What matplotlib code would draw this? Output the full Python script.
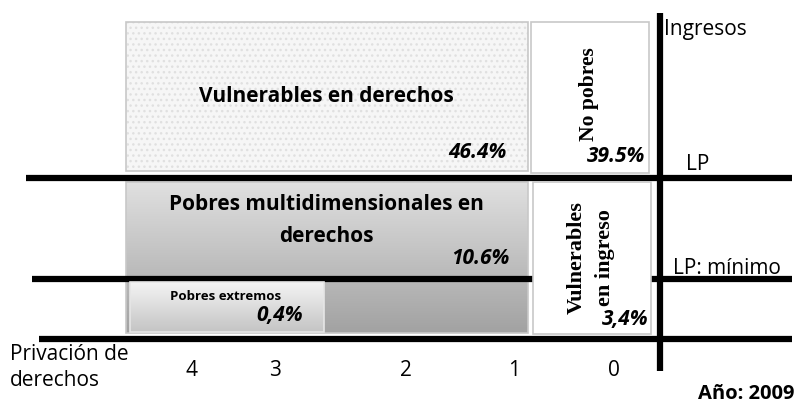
import matplotlib.pyplot as plt
import numpy as np
from matplotlib.colors import to_rgb
from matplotlib.patches import Rectangle

# categorias y porcentajes (Año 2009)
categorias = ["Vulnerables en derechos", "No pobres", "Pobres multidimensionales en\nderechos",
              "Vulnerables\nen ingreso", "Pobres extremos"]
porcentajes = ["46.4%", "39.5%", "10.6%", "3,4%", "0,4%"]
privacion = ["4", "3", "2", "1", "0"]
lineas = ["Ingresos", "LP", "LP: mínimo"]
eje_x = "Privación de\nderechos"
anio = "Año: 2009"

SANS = "Open Sans"
SERIF = "Liberation Serif"
BORDE = "#c8c8c8"

fig = plt.figure(figsize=(7.95, 4.04), dpi=100)
ax = fig.add_axes([0, 0, 1, 1])
ax.set_xlim(0, 795)
ax.set_ylim(404, 0)
ax.axis("off")


def gradiente(x0, x1, y0, y1, c_top, c_bot, z, borde=BORDE):
    g = np.linspace(0, 1, 128)[:, None, None]
    img = np.array(to_rgb(c_top)) * (1 - g) + np.array(to_rgb(c_bot)) * g
    ax.imshow(img, extent=(x0, x1, y1, y0), aspect="auto", zorder=z)
    ax.add_patch(Rectangle((x0, y0), x1 - x0, y1 - y0, fill=False, ec=borde, lw=1.2, zorder=z + 0.1))


def pct(x, y, s):
    ax.text(x, y, s, ha="right", va="center", fontsize=15, fontweight="bold",
            style="italic", family=SANS, zorder=6)


# cajas superiores
ax.add_patch(Rectangle((126, 22), 402, 149, fc="#f6f6f6", ec="#e0e0e0", lw=0, hatch="...", zorder=1))
ax.add_patch(Rectangle((126, 22), 402, 149, fill=False, ec=BORDE, lw=1.2, zorder=1.1))
ax.add_patch(Rectangle((531, 22), 118, 151, fc="white", ec=BORDE, lw=1.2, zorder=1))

# cajas inferiores
gradiente(126, 528, 182, 333, "#e0e0e0", "#a2a2a2", 1)
ax.add_patch(Rectangle((533, 182), 118, 152, fc="white", ec=BORDE, lw=1.2, zorder=4))

# lineas
lw = 4.5
ax.plot([26, 792], [178, 178], color="black", lw=lw, solid_capstyle="butt", zorder=3)
ax.plot([32, 792], [279, 279], color="black", lw=lw, solid_capstyle="butt", zorder=3)
ax.plot([39, 792], [339, 339], color="black", lw=lw, solid_capstyle="butt", zorder=3)
ax.plot([660, 660], [13, 371], color="black", lw=lw, solid_capstyle="butt", zorder=3)

gradiente(130, 324, 282, 332, "#f4f4f4", "#c4c4c4", 5, borde="#e6e6e6")

# textos de cajas
ax.text(326, 97, categorias[0], ha="center", va="center", fontsize=15, fontweight="bold",
        family=SANS, zorder=6)
pct(507, 152, porcentajes[0])
ax.text(589, 94, categorias[1], ha="center", va="center", rotation=90, fontsize=15.5,
        fontweight="bold", family=SERIF, zorder=6)
pct(645, 157, porcentajes[1])
for s, y in zip(categorias[2].split("\n"), [204, 236]):
    ax.text(326, y, s, ha="center", va="center", fontsize=15, fontweight="bold",
            family=SANS, zorder=6)
pct(510, 258, porcentajes[2])
for s, x in zip(categorias[3].split("\n"), [577, 605]):
    ax.text(x, 258, s, ha="center", va="center", rotation=90, fontsize=16,
            fontweight="bold", family=SERIF, zorder=6)
pct(648, 320, porcentajes[3])
ax.text(226, 296, categorias[4], ha="center", va="center", fontsize=9.5, fontweight="bold",
        family=SANS, zorder=6)
pct(303, 316, porcentajes[4])

# etiquetas de ejes
ax.text(664, 30, lineas[0], ha="left", va="center", fontsize=15, family=SANS)
ax.text(686, 164, lineas[1], ha="left", va="center", fontsize=15, family=SANS)
ax.text(673, 268, lineas[2], ha="left", va="center", fontsize=15, family=SANS)
for s, y in zip(eje_x.split("\n"), [355, 381]):
    ax.text(10, y, s, ha="left", va="center", fontsize=15, family=SANS)
for lab, x in zip(privacion, [192, 275, 406, 514, 614]):
    ax.text(x, 370, lab, ha="center", va="center", fontsize=15, family=SANS)
ax.text(794, 394, anio, ha="right", va="center", fontsize=14.5, fontweight="bold", family=SANS)

fig.savefig("out.png", dpi=100)
